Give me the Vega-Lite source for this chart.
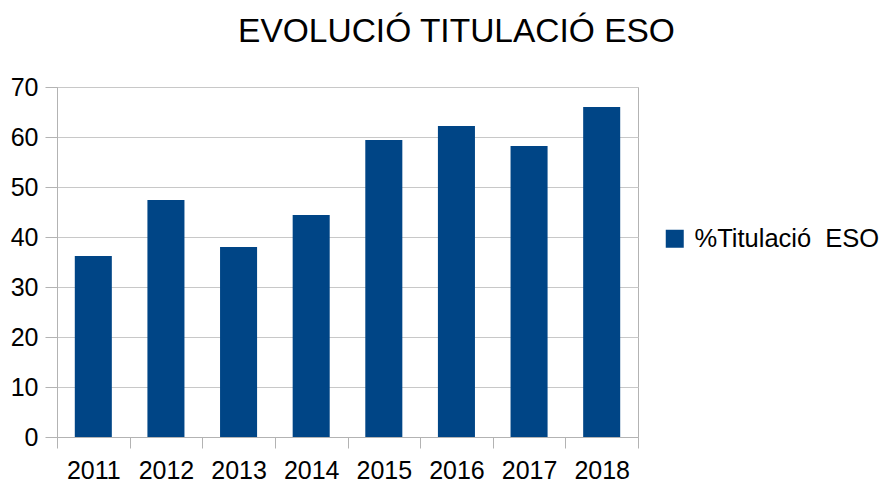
{
  "$schema": "https://vega.github.io/schema/vega-lite/v6.json",
  "autosize": "none",
  "padding": {"left": 57, "top": 87, "right": 247, "bottom": 47},
  "width": 581,
  "height": 350,
  "background": "white",
  "title": {
    "text": "EVOLUCIÓ TITULACIÓ ESO",
    "font": "Liberation Sans",
    "fontSize": 33.5,
    "fontWeight": "normal",
    "color": "#000000",
    "anchor": "middle",
    "frame": "group",
    "dx": 109,
    "offset": 26
  },
  "data": {
    "values": [
      {"year": "2011", "value": 36.2, "serie": "%Titulació\u00a0 ESO"},
      {"year": "2012", "value": 47.4, "serie": "%Titulació\u00a0 ESO"},
      {"year": "2013", "value": 38.0, "serie": "%Titulació\u00a0 ESO"},
      {"year": "2014", "value": 44.4, "serie": "%Titulació\u00a0 ESO"},
      {"year": "2015", "value": 59.4, "serie": "%Titulació\u00a0 ESO"},
      {"year": "2016", "value": 62.2, "serie": "%Titulació\u00a0 ESO"},
      {"year": "2017", "value": 58.2, "serie": "%Titulació\u00a0 ESO"},
      {"year": "2018", "value": 66.0, "serie": "%Titulació\u00a0 ESO"}
    ]
  },
  "mark": {"type": "bar", "width": {"band": 0.51}},
  "encoding": {
    "x": {
      "field": "year",
      "type": "nominal",
      "scale": {"paddingInner": 0, "paddingOuter": 0},
      "axis": {
        "title": null,
        "labelAngle": 0,
        "labelFont": "Liberation Sans",
        "labelFontSize": 25,
        "labelColor": "#000000",
        "labelPadding": 10,
        "tickBand": "extent",
        "tickSize": 11,
        "tickColor": "#b3b3b3",
        "domainColor": "#b3b3b3",
        "grid": false
      }
    },
    "y": {
      "field": "value",
      "type": "quantitative",
      "scale": {"domain": [0, 70], "nice": false},
      "axis": {
        "title": null,
        "values": [0, 10, 20, 30, 40, 50, 60, 70],
        "labelFont": "Liberation Sans",
        "labelFontSize": 25,
        "labelColor": "#000000",
        "labelPadding": 7,
        "tickSize": 12,
        "tickColor": "#b3b3b3",
        "domainColor": "#b3b3b3",
        "grid": true,
        "gridColor": "#c8c8c8",
        "gridWidth": 1
      }
    },
    "color": {
      "field": "serie",
      "type": "nominal",
      "scale": {"range": ["#004586"]},
      "legend": {
        "title": null,
        "orient": "none",
        "legendX": 605,
        "legendY": 139,
        "symbolType": "square",
        "symbolSize": 324,
        "symbolStrokeWidth": 0,
        "symbolOpacity": 1,
        "labelFont": "Liberation Sans",
        "labelFontSize": 25.5,
        "labelColor": "#000000",
        "labelOffset": 7,
        "labelLimit": 0
      }
    }
  },
  "config": {
    "view": {"stroke": "#b3b3b3"},
    "axis": {"domainWidth": 1, "tickWidth": 1}
  }
}
